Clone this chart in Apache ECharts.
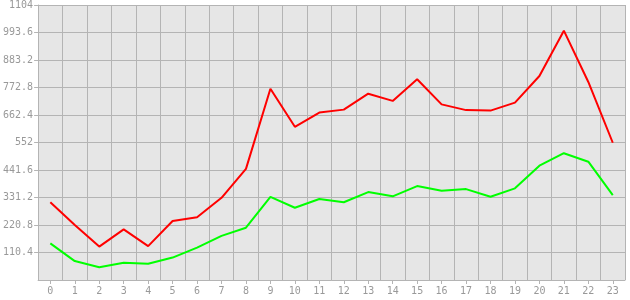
<!DOCTYPE html>
<html>
<head>
<meta charset="utf-8">
<script src="https://cdn.jsdelivr.net/npm/echarts@6/dist/echarts.min.js"></script>
<style>html,body{margin:0;padding:0;background:#fff}#c{width:630px;height:300px}</style>
</head>
<body>
<div id="c"></div>
<script>
var categories = ['0','1','2','3','4','5','6','7','8','9','10','11','12','13','14','15','16','17','18','19','20','21','22','23'];
var redValues = [312, 221, 134, 203, 136, 237, 252, 330, 446, 768, 615, 672, 684, 748, 719, 806, 705, 682, 680, 712, 819, 1001, 795, 551];
var greenValues = [147, 76, 51, 69, 65, 90, 130, 177, 210, 334, 290, 325, 312, 353, 336, 377, 358, 365, 334, 368, 459, 509, 475, 341];
var yMin = 0, yMax = 1104, yStep = 110.4;

var chart = echarts.init(document.getElementById('c'), null, {renderer: 'canvas'});
var gridColor = '#b4b4b4';
var font = {color: '#999999', fontFamily: 'DejaVu Sans Mono', fontSize: 10};
chart.setOption({
  animation: false,
  grid: {left: 38, top: 5, right: 5, bottom: 20, show: true, backgroundColor: '#e6e6e6', borderWidth: 0},
  xAxis: {
    type: 'category', data: categories, boundaryGap: true,
    axisLine: {lineStyle: {color: gridColor, width: 1}},
    axisTick: {show: true, alignWithLabel: true, length: 4, lineStyle: {color: gridColor}},
    axisLabel: Object.assign({margin: 6, interval: 0}, font),
    splitLine: {show: true, interval: 0, lineStyle: {color: gridColor, width: 1}}
  },
  yAxis: {
    type: 'value', min: yMin, max: yMax, interval: yStep,
    axisLine: {show: true, lineStyle: {color: gridColor, width: 1}},
    axisTick: {show: true, length: 4, lineStyle: {color: gridColor}},
    axisLabel: Object.assign({margin: 5, showMinLabel: false, formatter: function (v) { return v === 0 ? '' : String(Number(v.toFixed(1))); }}, font),
    splitLine: {show: true, lineStyle: {color: gridColor, width: 1}}
  },
  series: [
    {type: 'line', data: redValues, symbol: 'none', lineStyle: {color: '#ff0000', width: 2}, itemStyle: {color: '#ff0000'}},
    {type: 'line', data: greenValues, symbol: 'none', lineStyle: {color: '#00ff00', width: 2}, itemStyle: {color: '#00ff00'}}
  ]
});
</script>
</body>
</html>
